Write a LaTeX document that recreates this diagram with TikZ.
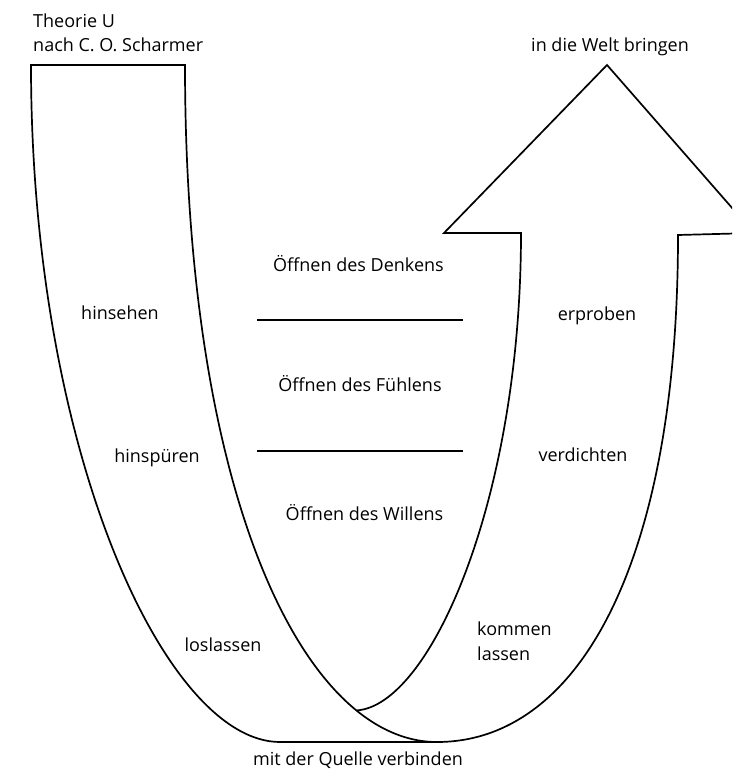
\documentclass[tikz,border=0pt]{standalone}
\usepackage{fontspec}
\setmainfont{Open Sans}
\usetikzlibrary{positioning}

\newcommand{\ucoords}{
    % left arm
    \coordinate (lo) at (31,65);
    \coordinate (li) at (185,65);
    \coordinate (bl) at (280,742);
    \coordinate (bm) at (437,742);
    % right arm and arrow head
    \coordinate (ro) at (678,235);
    \coordinate (rc) at (754,233);
    \coordinate (tip) at (607,65);
    \coordinate (lc) at (444,233);
    \coordinate (ri) at (521,233);
    % dividers
    \coordinate (d1l) at (257,320);
    \coordinate (d1r) at (463,320);
    \coordinate (d2l) at (257,451);
    \coordinate (d2r) at (463,451);
}

\tikzset{
    ribbon/.style={line width=1.7pt},
    divider/.style={line width=2pt},
    stage/.style={font=\fontsize{18}{22}\selectfont, inner sep=0pt, anchor=base}
}

\begin{document}
\begin{tikzpicture}[x=1pt,y=-1pt]
    \useasboundingbox (0,0) rectangle (732,770);
    \clip (0,0) rectangle (732,770);
    \ucoords

    % where the inner right edge meets the inner left edge
    \path (li) .. controls (185,500) and (305,742) .. coordinate[pos=0.79] (meet) (bm);

    \draw[ribbon] (meet) .. controls (430,706) and (521,500) .. (ri) -- (lc) -- (tip) -- (rc) -- (ro)
        .. controls (678,560) and (580,742) .. (bm)
        .. controls (305,742) and (185,500) .. (li) -- (lo)
        .. controls (31,450) and (165,742) .. (bl) -- (bm);

    \draw[divider] (d1l) -- (d1r);
    \draw[divider] (d2l) -- (d2r);

    \node[stage, anchor=base west] (theorie) at (33,28) {Theorie U};
    \node[stage, anchor=base west] (scharmer) at ([yshift=-24pt]theorie.base west) {nach C. O. Scharmer};
    \node[stage] (welt) at (610,52) {in die Welt bringen};

    \node[stage] (denken) at (358.5,271.5) {Öffnen des Denkens};
    \node[stage] (fuehlen) at (360,391.5) {Öffnen des Fühlens};
    \node[stage] (willen) at (364.5,520) {Öffnen des Willens};

    \node[stage] (hinsehen) at (120,319) {hinsehen};
    \node[stage] (hinspueren) at (157,462.5) {hinspüren};
    \node[stage] (loslassen) at (223,651.5) {loslassen};

    \node[stage] (erproben) at (597,320) {erproben};
    \node[stage] (verdichten) at (583,461.5) {verdichten};
    \node[stage, anchor=base west] (kommen) at (477,635) {kommen};
    \node[stage, anchor=base west] (lassen) at ([yshift=-25pt]kommen.base west) {lassen};

    \node[stage] (quelle) at (358,765) {mit der Quelle verbinden};
\end{tikzpicture}
\end{document}
